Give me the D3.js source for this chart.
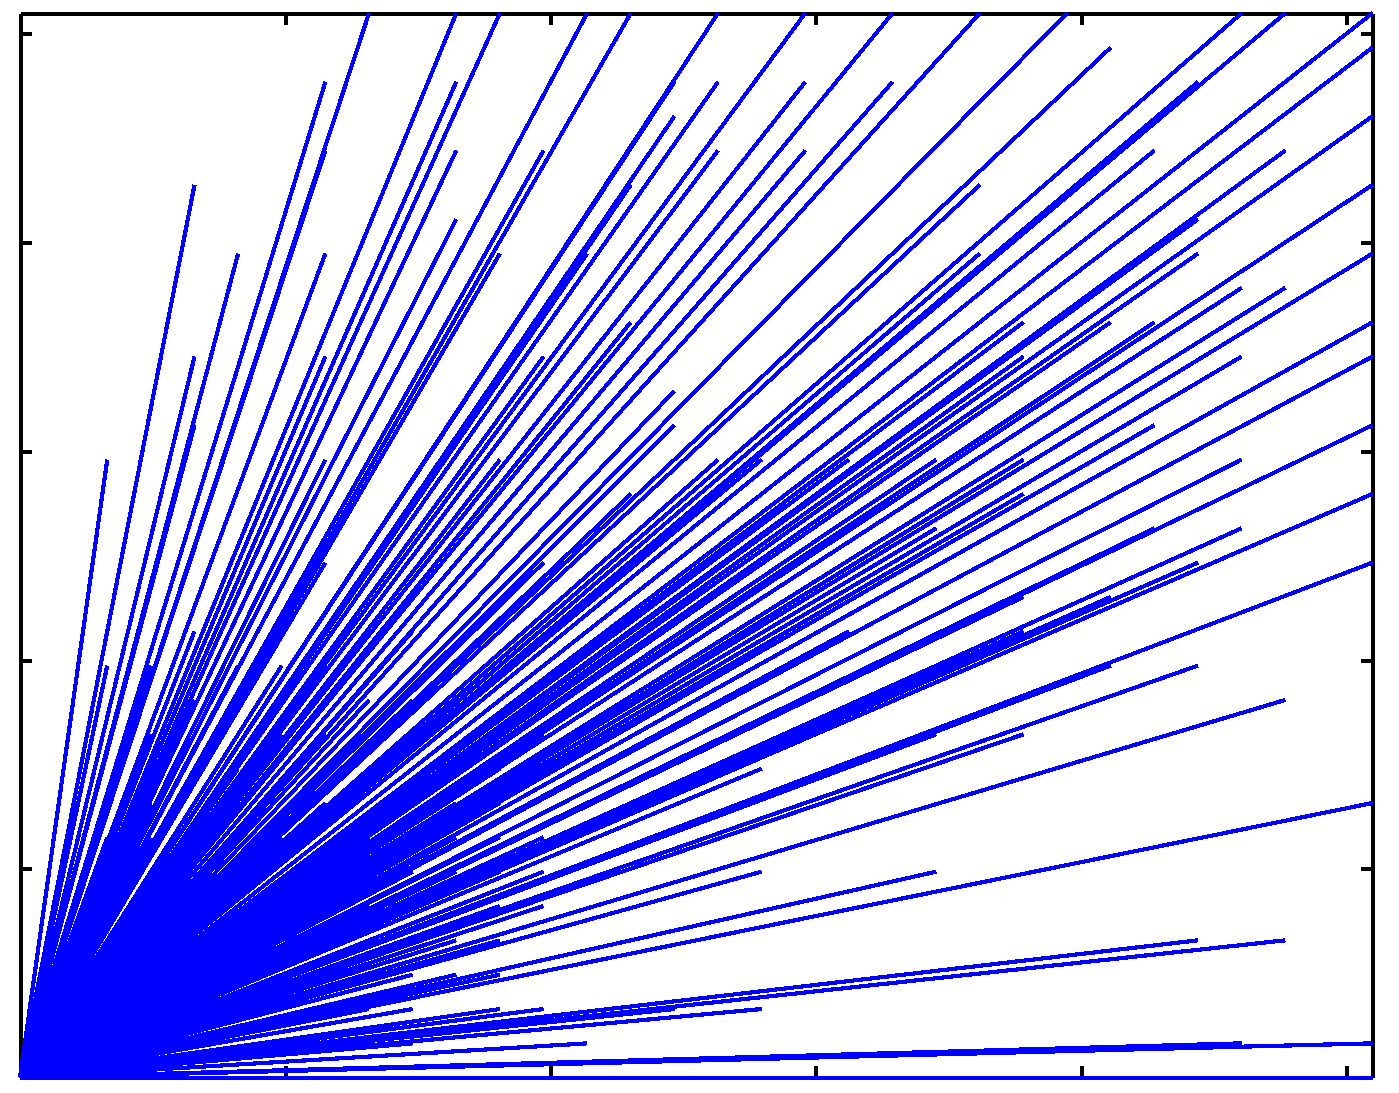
<!DOCTYPE html>
<html>
<head>
<meta charset="utf-8">
<script src="https://cdn.jsdelivr.net/npm/d3@7"></script>
<style>
  html, body { margin: 0; padding: 0; background: #ffffff; }
  svg { display: block; }
</style>
</head>
<body>
<script>
// ---------------- DATA (grid units, axes run 0..31) ----------------
// Rays that end on the top edge (y = 31)
const topEdgeX = [8, 10, 11, 13, 14, 16, 18, 20, 22, 24, 28, 29, 31];
// Rays that end on the right edge (x = 31)
const rightEdgeY = [30, 28, 26, 24, 22, 21, 19, 17, 15, 8, 1, 0];
// Segments that end inside the axes: [x, y]
const innerEnds = [
  [2, 18], [2, 12],
  [4, 26], [4, 21], [4, 19], [4, 13],
  [5, 24],
  [7, 29], [7, 27], [7, 24], [7, 21], [7, 18], [7, 15],
  [8, 2], [9, 3],
  [10, 29], [10, 27], [10, 25], [10, 7],
  [11, 24], [11, 18], [11, 5], [11, 2],
  [12, 27], [12, 21], [12, 15],
  [13, 24], [13, 1],
  [14, 26], [14, 22], [14, 17],
  [15, 29], [15, 28], [15, 20], [15, 19], [15, 2],
  [16, 29], [16, 27], [16, 18],
  [17, 18], [17, 9], [17, 6], [17, 2],
  [18, 29], [18, 27],
  [19, 18], [19, 13],
  [20, 29],
  [21, 18], [21, 16], [21, 10], [21, 6],
  [22, 26], [22, 24],
  [23, 22], [23, 21], [23, 18], [23, 17], [23, 14], [23, 13], [23, 10],
  [25, 30], [25, 22], [25, 14], [25, 12],
  [26, 27], [26, 22], [26, 19], [26, 16],
  [27, 29], [27, 25], [27, 24], [27, 15], [27, 12], [27, 4],
  [28, 23], [28, 21], [28, 18], [28, 16], [28, 1],
  [29, 27], [29, 23], [29, 11], [29, 4]
];
// Shorter segments whose ends are hidden inside the dense fan: [x, y]
const shortEnds = [
  [1, 4], [1, 9], [2, 5], [2, 7], [3, 2], [3, 6], [3, 10], [4, 1], [4, 5],
  [5, 3], [5, 8], [6, 2], [6, 6], [6, 11], [7, 4], [7, 9], [8, 5], [8, 10],
  [9, 1], [9, 7], [10, 4], [10, 11], [11, 8], [12, 2], [12, 6], [12, 10],
  [5, 12], [3, 12], [6, 9],
  [4, 3], [4, 7], [4, 9], [5, 2], [5, 4], [5, 6], [5, 9], [5, 11],
  [6, 3], [6, 5], [6, 8], [6, 10], [7, 3], [7, 5], [7, 7], [7, 11], [7, 13],
  [8, 3], [8, 4], [8, 7], [8, 9], [8, 12], [9, 4], [9, 6], [9, 9], [9, 11],
  [9, 13], [10, 5], [10, 6], [10, 9], [10, 12], [11, 4], [11, 7], [11, 10],
  [11, 13], [3, 4], [3, 7], [2, 4], [2, 6],
  [12, 5], [12, 7], [12, 9], [12, 11], [12, 12], [11, 3], [11, 6], [11, 9],
  [11, 11], [10, 3], [10, 8], [10, 10], [9, 2], [9, 5], [9, 8], [9, 10],
  [8, 6], [8, 8], [8, 11], [7, 2], [7, 6], [7, 8], [7, 10], [7, 12],
  [6, 4], [6, 7], [6, 12], [5, 5], [5, 7], [5, 10], [4, 2], [4, 4],
  [4, 6], [4, 8], [4, 10], [4, 11], [3, 3], [3, 5], [3, 8], [3, 9]
];
// Tick positions (no labels shown)
const xTicks = [6.08, 12.16, 18.24, 24.32, 30.4];
const yTicks = [6.08, 12.16, 18.24, 24.32, 30.4];
const axisMax = 31;

// ---------------- DRAWING ----------------
const W = 1399, H = 1093;
const plotL = 20, plotR = 1372.7, plotT = 13, plotB = 1077.7;

const svg = d3.select("body").append("svg")
  .attr("width", W).attr("height", H)
  .style("background", "#ffffff");

const x = d3.scaleLinear().domain([0, axisMax]).range([plotL, plotR]);
const y = d3.scaleLinear().domain([0, axisMax]).range([plotB, plotT]);

const tickLen = 12;
function styleAxis(g) {
  g.selectAll("path.domain").attr("stroke", "#000").attr("stroke-width", 4)
    .attr("shape-rendering", "crispEdges");
  g.selectAll(".tick line").attr("stroke", "#000").attr("stroke-width", 4)
    .attr("shape-rendering", "crispEdges");
  g.selectAll(".tick text").remove();
}

svg.append("g").attr("transform", `translate(0,${plotB})`)
  .call(d3.axisBottom(x).tickValues(xTicks).tickSizeInner(-tickLen).tickSizeOuter(0).tickFormat(""))
  .call(styleAxis);
svg.append("g").attr("transform", `translate(0,${plotT})`)
  .call(d3.axisTop(x).tickValues(xTicks).tickSizeInner(-tickLen).tickSizeOuter(0).tickFormat(""))
  .call(styleAxis);
svg.append("g").attr("transform", `translate(${plotL},0)`)
  .call(d3.axisLeft(y).tickValues(yTicks).tickSizeInner(-tickLen).tickSizeOuter(0).tickFormat(""))
  .call(styleAxis);
svg.append("g").attr("transform", `translate(${plotR},0)`)
  .call(d3.axisRight(y).tickValues(yTicks).tickSizeInner(-tickLen).tickSizeOuter(0).tickFormat(""))
  .call(styleAxis);

const ends = []
  .concat(topEdgeX.map(v => [v, axisMax]))
  .concat(rightEdgeY.map(v => [axisMax, v]))
  .concat(innerEnds)
  .concat(shortEnds);

svg.append("g").selectAll("line.ray")
  .data(ends)
  .join("line")
  .attr("class", "ray")
  .attr("x1", x(0)).attr("y1", y(0))
  .attr("x2", d => x(d[0])).attr("y2", d => y(d[1]))
  .attr("stroke", "#0000ff")
  .attr("stroke-width", 4.2)
  .attr("shape-rendering", "crispEdges");
</script>
</body>
</html>
